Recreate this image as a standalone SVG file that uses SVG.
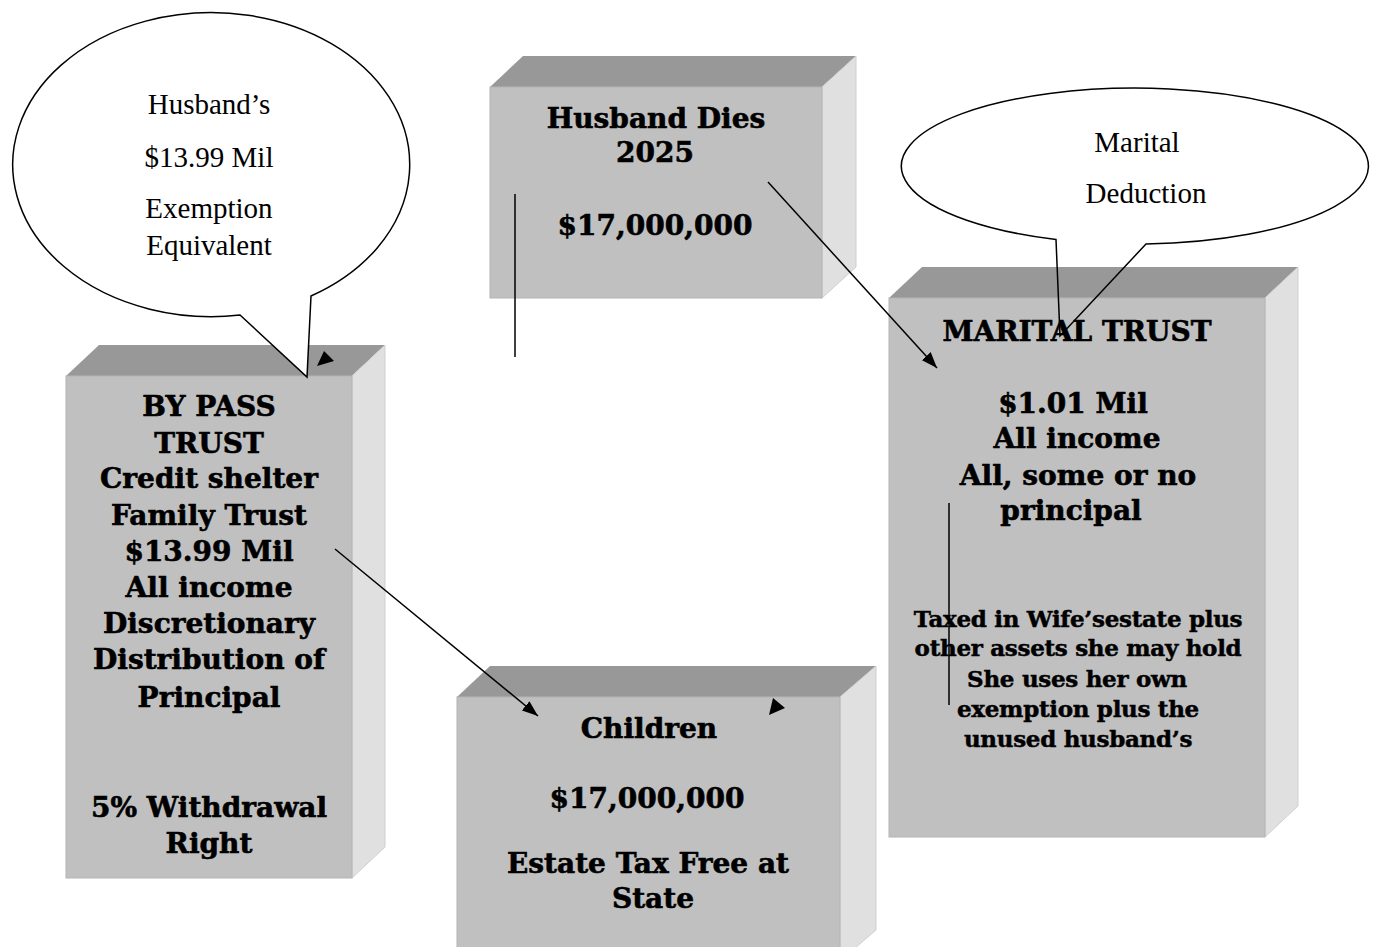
<svg xmlns="http://www.w3.org/2000/svg" width="1376" height="947" viewBox="0 0 1376 947">
<defs>
<marker id="ah" viewBox="0 0 16 12" refX="16" refY="6" markerWidth="16" markerHeight="12" markerUnits="userSpaceOnUse" orient="auto">
<path d="M0,0 L16,6 L0,12 Z" fill="#000"/>
</marker>
<style>
.front{fill:#c0c0c0;stroke:#b4b4b4;stroke-width:1}
.top{fill:#989898}
.side{fill:#e0e0e0;stroke:#d0d0d0;stroke-width:1}
.bt{font-family:"DejaVu Serif","Liberation Serif",serif;font-weight:bold;font-size:28px;text-anchor:middle;fill:#000;stroke:#000;stroke-width:0.6}
.st{font-family:"DejaVu Serif","Liberation Serif",serif;font-weight:bold;font-size:23px;text-anchor:middle;fill:#000;stroke:#000;stroke-width:0.5;letter-spacing:-0.3px}
.ct{font-family:"Liberation Serif","Times New Roman",serif;font-size:29px;text-anchor:middle;fill:#000}
.bubble{fill:#fff;stroke:#000;stroke-width:1.5}
.ln{stroke:#000;stroke-width:1.5;fill:none}
</style>
</defs>
<rect width="1376" height="947" fill="#fff"/>

<g id="husband-dies">
<polygon class="top" points="490,87 523,56 856,56 822,87"/>
<polygon class="side" points="822,87 856,56 856,267 822,298"/>
<rect class="front" x="490" y="87" width="332" height="211"/>
<text class="bt" x="656" y="128">Husband Dies</text>
<text class="bt" x="655" y="162">2025</text>
<text class="bt" x="655" y="235">$17,000,000</text>
</g>

<g id="marital-trust">
<polygon class="top" points="889,298 922,267 1298,267 1265,298"/>
<polygon class="side" points="1265,298 1298,267 1298,806 1265,837"/>
<rect class="front" x="889" y="298" width="376" height="539"/>
<text class="bt" x="1077" y="341">MARITAL TRUST</text>
<text class="bt" x="1073" y="413">$1.01 Mil</text>
<text class="bt" x="1077" y="448">All income</text>
<text class="bt" x="1078" y="485">All, some or no</text>
<text class="bt" x="1071" y="520">principal</text>
<text class="st" x="1078" y="627">Taxed in Wife’sestate plus</text>
<text class="st" x="1078" y="656">other assets she may hold</text>
<text class="st" x="1077" y="687">She uses her own</text>
<text class="st" x="1078" y="717">exemption plus the</text>
<text class="st" x="1078" y="747">unused husband’s</text>
</g>

<g id="bypass-trust">
<polygon class="top" points="66,376 99,345 385,345 352,376"/>
<polygon class="side" points="352,376 385,345 385,847 352,878"/>
<rect class="front" x="66" y="376" width="286" height="502"/>
<text class="bt" x="209" y="416">BY PASS</text>
<text class="bt" x="209" y="453">TRUST</text>
<text class="bt" x="209" y="488">Credit shelter</text>
<text class="bt" x="209" y="525">Family Trust</text>
<text class="bt" x="209" y="561">$13.99 Mil</text>
<text class="bt" x="209" y="597">All income</text>
<text class="bt" x="209" y="633">Discretionary</text>
<text class="bt" x="209" y="669">Distribution of</text>
<text class="bt" x="209" y="707">Principal</text>
<text class="bt" x="209" y="817">5% Withdrawal</text>
<text class="bt" x="209" y="853">Right</text>
</g>

<g id="children">
<polygon class="top" points="457,697 490,666 876,666 840,697"/>
<polygon class="side" points="840,697 876,666 876,930 840,961"/>
<rect class="front" x="457" y="697" width="383" height="264"/>
<text class="bt" x="649" y="738">Children</text>
<text class="bt" x="647" y="808">$17,000,000</text>
<text class="bt" x="648" y="873">Estate Tax Free at</text>
<text class="bt" x="653" y="908">State</text>
</g>

<g id="callout-exemption">
<path class="bubble" d="M240,315 L307,377 L311,296 A198.5 152 0 1 0 240,315 Z"/>
<text class="ct" x="209" y="114">Husband’s</text>
<text class="ct" x="209" y="167">$13.99 Mil</text>
<text class="ct" x="209" y="218">Exemption</text>
<text class="ct" x="209" y="255">Equivalent</text>
</g>

<g id="callout-marital">
<path class="bubble" style="fill:none" d="M1056,239.5 L1060,336 L1146,244 A233.5 78 0 1 0 1056,239.5 Z"/>
<text class="ct" x="1137" y="152">Marital</text>
<text class="ct" x="1146" y="203">Deduction</text>
</g>

<g id="connectors">
<line class="ln" x1="515" y1="194" x2="515" y2="357"/>
<line class="ln" x1="768" y1="182" x2="937" y2="368" marker-end="url(#ah)"/>
<line class="ln" x1="335" y1="549" x2="538" y2="716" marker-end="url(#ah)"/>
<line class="ln" x1="949" y1="503" x2="949" y2="705"/>
<polygon points="317,366 334,361 324,351" fill="#000"/>
<polygon points="769,715 785,708 773,698" fill="#000"/>
</g>
</svg>
